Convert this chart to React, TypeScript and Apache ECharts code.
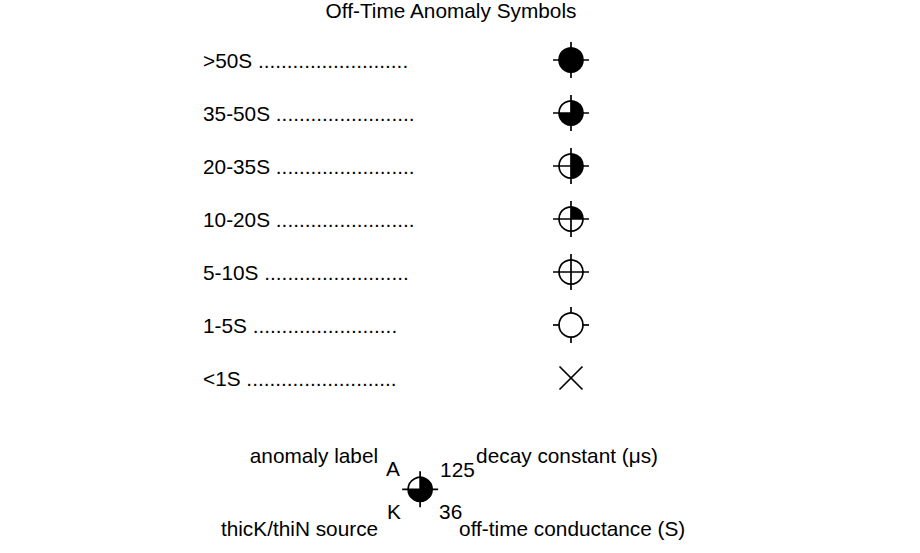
import React, { useEffect, useRef } from "react";
import * as echarts from "echarts";

const titleText = "Off-Time Anomaly Symbols";
const levelLabels = [">50S", "35-50S", "20-35S", "10-20S", "5-10S", "1-5S", "<1S"];
const levelKinds = ["full", "threeQuarter", "half", "quarter", "cross", "ticks", "x"];
const leaderDots = [26, 24, 24, 24, 25, 25, 26];

const exampleKind = "threeQuarter";
const exampleLabel = "A";
const exampleSource = "K";
const exampleDecay = 125;
const exampleConductance = 36;
const exampleRow = 8.1;
const exampleColumn = 0.59;

const FONT_FAMILY = '"Liberation Sans", Arial, Helvetica, sans-serif';
const FONT = `20.8px ${FONT_FAMILY}`;
const R = 12;
const T = 18;
const LW = 1.7;

const fractionOf: Record<string, number> = {
  full: 1,
  threeQuarter: 0.75,
  half: 0.5,
  quarter: 0.25,
};

function symbolChildren(cx: number, cy: number, kind: string): any[] {
  const stroke = { stroke: "#000", lineWidth: LW, fill: null };
  if (kind === "x") {
    const h = R - 0.5;
    return [
      { type: "line", shape: { x1: cx - h, y1: cy - h, x2: cx + h, y2: cy + h }, style: stroke },
      { type: "line", shape: { x1: cx - h, y1: cy + h, x2: cx + h, y2: cy - h }, style: stroke },
    ];
  }
  const out: any[] = [];
  out.push({ type: "circle", shape: { cx, cy, r: R }, style: { fill: "#fff" } });
  const frac = fractionOf[kind] || 0;
  if (frac >= 1) {
    out.push({ type: "circle", shape: { cx, cy, r: R }, style: { fill: "#000" } });
  } else if (frac > 0) {
    out.push({
      type: "sector",
      shape: {
        cx,
        cy,
        r0: 0,
        r: R,
        startAngle: -Math.PI / 2,
        endAngle: -Math.PI / 2 + frac * Math.PI * 2,
        clockwise: true,
      },
      style: { fill: "#000" },
    });
  }
  if (kind === "ticks") {
    out.push(
      { type: "line", shape: { x1: cx - T, y1: cy, x2: cx - R, y2: cy }, style: stroke },
      { type: "line", shape: { x1: cx + R, y1: cy, x2: cx + T, y2: cy }, style: stroke },
      { type: "line", shape: { x1: cx, y1: cy - T, x2: cx, y2: cy - R }, style: stroke },
      { type: "line", shape: { x1: cx, y1: cy + R, x2: cx, y2: cy + T }, style: stroke }
    );
  } else {
    out.push(
      { type: "line", shape: { x1: cx - T, y1: cy, x2: cx + T, y2: cy }, style: stroke },
      { type: "line", shape: { x1: cx, y1: cy - T, x2: cx, y2: cy + T }, style: stroke }
    );
  }
  out.push({ type: "circle", shape: { cx, cy, r: R }, style: stroke });
  return out;
}

function txt(text: string, x: number, y: number, align: string = "left") {
  return {
    type: "text",
    style: { text, x, y, fill: "#000", font: FONT, align, verticalAlign: "middle" },
  };
}

export default function App() {
  const ref = useRef<HTMLDivElement>(null);
  useEffect(() => {
    if (!ref.current) return;
    const chart = echarts.init(ref.current, null, { renderer: "svg" });
    const rowData = levelLabels.map((_, i) => [0, i, i]);
    chart.setOption({
      animation: false,
      backgroundColor: "#fff",
      grid: { left: 203, right: 349, top: 7, bottom: 16 },
      xAxis: { type: "value", min: 0, max: 1, show: false },
      yAxis: { type: "value", min: -1, max: 9, inverse: true, show: false },
      graphic: [
        {
          type: "text",
          x: 451,
          y: 10,
          style: {
            text: titleText,
            fill: "#000",
            font: FONT,
            align: "center",
            verticalAlign: "middle",
          },
        },
      ],
      series: [
        {
          type: "custom",
          data: rowData,
          renderItem: (params: any, api: any) => {
            const row = api.value(1);
            const idx = api.value(2);
            const [lx, ly] = api.coord([0, row]);
            const [sx, sy] = api.coord([1, row]);
            const label = levelLabels[idx];
            const leader = label + " " + ".".repeat(leaderDots[idx]);
            return {
              type: "group",
              children: [txt(leader, lx, ly, "left"), ...symbolChildren(sx, sy, levelKinds[idx])],
            };
          },
        },
        {
          type: "custom",
          data: [[exampleColumn, exampleRow]],
          renderItem: (params: any, api: any) => {
            const [cx, cy] = api.coord([api.value(0), api.value(1)]);
            return {
              type: "group",
              children: [
                ...symbolChildren(cx, cy, exampleKind),
                txt(exampleLabel, cx - 34, cy - 21, "left"),
                txt(String(exampleDecay), cx + 20, cy - 20, "left"),
                txt(exampleSource, cx - 33, cy + 22, "left"),
                txt(String(exampleConductance), cx + 19, cy + 22, "left"),
                txt("anomaly label", cx - 42, cy - 34, "right"),
                txt("decay constant (\u03bcs)", cx + 56, cy - 34, "left"),
                txt("thicK/thiN source", cx - 42, cy + 39, "right"),
                txt("off-time conductance (S)", cx + 39, cy + 39, "left"),
              ],
            };
          },
        },
      ],
    });
    return () => chart.dispose();
  }, []);
  return (
    <div
      ref={ref}
      style={{ position: "absolute", left: 0, top: 0, width: 920, height: 553 }}
    />
  );
}
